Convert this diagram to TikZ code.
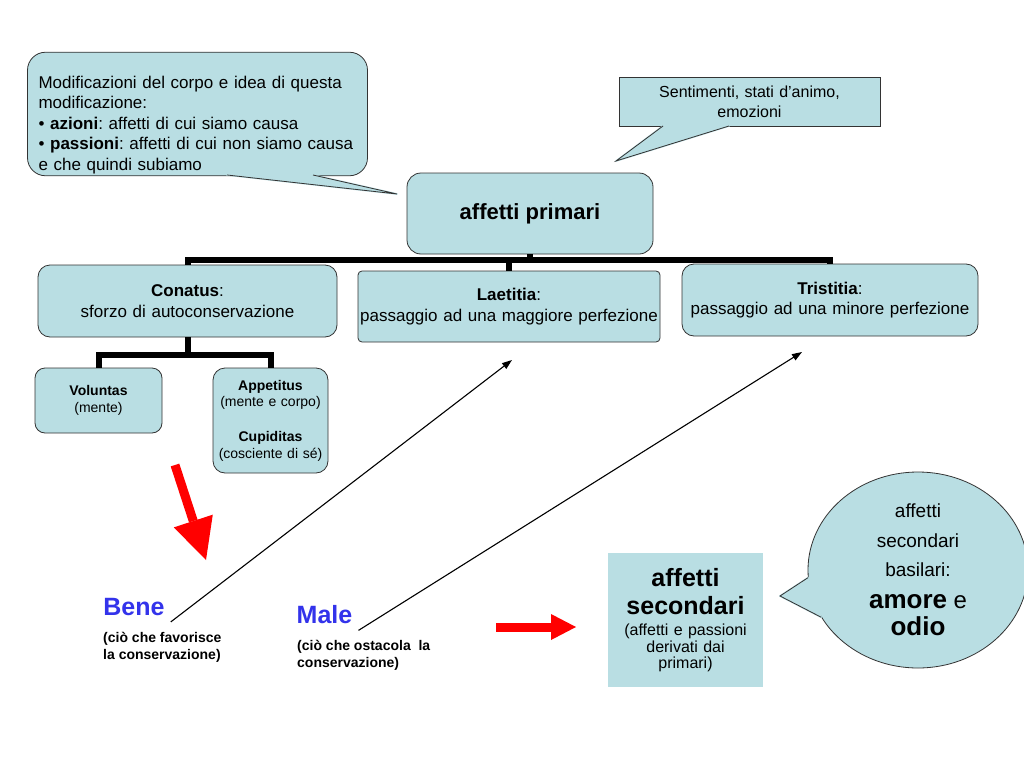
\documentclass[tikz,border=0pt]{standalone}
\usepackage{fontspec}
\setmainfont{Liberation Sans}
\frenchspacing
\usetikzlibrary{arrows.meta,shapes.geometric}
\definecolor{boxblue}{RGB}{185,222,227}
\definecolor{benblue}{RGB}{51,51,235}

\begin{document}
\begin{tikzpicture}[x=1pt,y=-1pt,
  box/.style={draw=black!80,line width=0.8pt,fill=boxblue,align=center,inner sep=2pt},
  tree/.style={line width=6pt},
  ray/.style={line width=1.1pt,-{Triangle[length=10pt,width=7pt]}},
  redarrow/.style={draw=red,line width=9pt},
  tipfill/.style={fill=boxblue,draw=boxblue,line width=1.6pt,line join=round},
  tipline/.style={draw=black!80,line width=0.8pt}]
\path[use as bounding box,fill=white] (0,0) rectangle (1024,768);
\clip (0,0) rectangle (1024,768);
\node[box,rounded corners=18pt,minimum width=340pt,minimum height=122pt,text width=318pt,align=left,font=\fontsize{17}{20.5}\selectfont] (mod) at (197.5,114) {\rule{0pt}{34pt}Modificazioni del corpo e idea di questa\\ modificazione:\\ • \textbf{azioni}: affetti di cui siamo causa\\ • \textbf{passioni}: affetti di cui non siamo causa\\ e che quindi subiamo};
\node[box,minimum width=261pt,minimum height=49pt,text width=255pt,font=\fontsize{16}{20}\selectfont] (sent) at (749.5,101.5) {Sentimenti, stati d’animo,\\ emozioni};
\node[box,rounded corners=14pt,minimum width=246pt,minimum height=81pt,font=\bfseries\fontsize{22}{26}\selectfont] (prim) at (530,213.5) {affetti primari};
\node[box,rounded corners=12pt,minimum width=299pt,minimum height=72pt,text width=292pt,font=\fontsize{17}{20.5}\selectfont] (con) at (187.5,301) {\textbf{Conatus}:\\ sforzo di autoconservazione};
\node[box,rounded corners=4pt,inner sep=1pt,minimum width=302pt,minimum height=71pt,text width=300pt,font=\fontsize{17}{20.5}\selectfont] (lae) at (509,306.5) {\textbf{Laetitia}:\\ passaggio ad una maggiore perfezione};
\node[box,rounded corners=12pt,minimum width=296pt,minimum height=72pt,text width=290pt,font=\fontsize{17}{20.5}\selectfont] (tri) at (830,300) {\textbf{Tristitia}:\\ passaggio ad una minore perfezione};
\node[box,rounded corners=10pt,minimum width=127pt,minimum height=65pt,text width=120pt,font=\fontsize{14}{16.5}\selectfont] (vol) at (98.5,400.5) {\textbf{Voluntas}\\ (mente)};
\node[box,rounded corners=12pt,inner sep=1pt,minimum width=115pt,minimum height=105pt,text width=112pt,font=\fontsize{14}{16.5}\selectfont] (app) at (270.5,420.5) {\textbf{Appetitus}\\ (mente e corpo)\\[18.5pt] \textbf{Cupiditas}\\ (cosciente di sé)};
\node[box,draw=none,minimum width=155pt,minimum height=134pt,text width=150pt,font=\fontsize{16}{16.5}\selectfont] (sec) at (685.5,620) {{\bfseries\fontsize{25}{28}\selectfont affetti\\ secondari\par}\vspace{5pt}(affetti e passioni\\ derivati dai\\ primari)};
\node[box,ellipse,minimum width=220pt,minimum height=196pt,inner sep=0pt,text width=150pt,font=\fontsize{19}{29.5}\selectfont] (bas) at (918,570) {affetti\\ secondari\\ basilari:\par\vspace{5pt}{\bfseries\fontsize{26}{27}\selectfont amore {\mdseries\fontsize{24}{27}\selectfont e}\\ odio\par}};
\node[text=benblue,font=\bfseries\fontsize{25}{28}\selectfont,inner sep=6pt] (bene) at (134,607) {Bene};
\node[anchor=west,align=left,font=\bfseries\fontsize{14}{17}\selectfont,inner sep=2pt] (benec) at (101,647.5) {(ciò che favorisce\\ la conservazione)};
\node[text=benblue,font=\bfseries\fontsize{25}{28}\selectfont,inner sep=6pt] (male) at (324.5,615) {Male};
\node[anchor=west,align=left,font=\bfseries\fontsize{14}{17}\selectfont,inner sep=2pt] (malec) at (295,655.5) {(ciò che ostacola~ la\\ conservazione)};
\path[tipfill] (227,175) -- (397,194) -- (313,175) -- cycle;
\draw[tipline] (227,175) -- (397,194) -- (313,175);
\path[tipfill] (663,126) -- (616,161) -- (729,126) -- cycle;
\draw[tipline] (663,126) -- (616,161) -- (729,126);
\path[tipfill] (bas.184) -- (780,596) -- (bas.206) -- cycle;
\draw[tipline] (bas.184) -- (780,596) -- (bas.206);
\coordinate (bar) at (0,259.5);
\coordinate (fork) at (0,355);
\draw[tree] (con.north) -- (con.north |- bar) -- (tri.north |- bar) -- (tri.north);
\draw[tree] (prim.south) -- (prim.south |- bar);
\draw[tree] (lae.north) -- (lae.north |- bar);
\draw[tree] (con.south) -- (con.south |- fork);
\draw[tree] (vol.north) -- (vol.north |- fork) -- (app.north |- fork) -- (app.north);
\coordinate (up1) at (512,360);
\coordinate (up2) at (802,352);
\draw[ray] (bene.south east) -- (up1);
\draw[ray] (male.south east) -- (up2);
\coordinate (r1) at (175,465);
\coordinate (r2) at (206,560);
\draw[redarrow,-{Triangle[length=41pt,width=41pt,line width=0pt]}] (r1) -- (r2);
\coordinate (r3) at (496,627);
\coordinate (r4) at (576,627);
\draw[redarrow,-{Triangle[length=25pt,width=26pt,line width=0pt]}] (r3) -- (r4);
\end{tikzpicture}
\end{document}
